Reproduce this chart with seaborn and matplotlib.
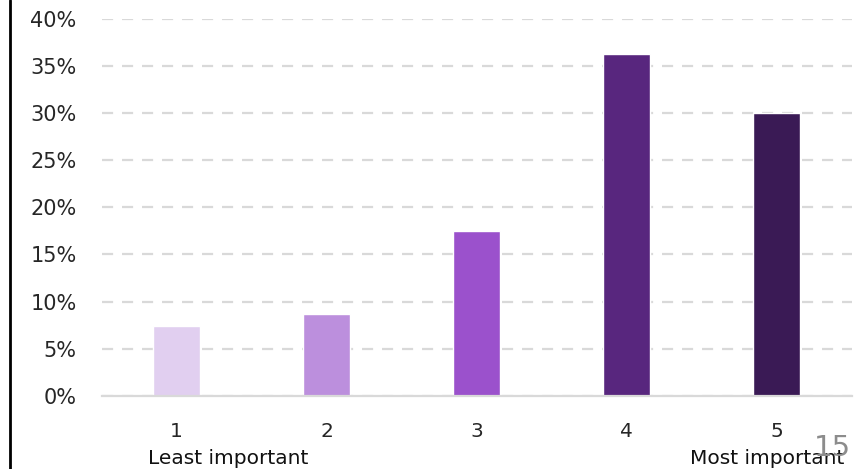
import matplotlib
matplotlib.use("Agg")
import matplotlib.pyplot as plt
import seaborn as sns
import pandas as pd
from matplotlib.lines import Line2D
from matplotlib.ticker import PercentFormatter

# Data
ratings = ["1", "2", "3", "4", "5"]
shares = [7.4, 8.7, 17.5, 36.3, 30.0]
bar_colors = ["#E1CFF0", "#BC8FDD", "#9B51CC", "#58267E", "#3A1A55"]
y_ticks = [0, 5, 10, 15, 20, 25, 30, 35, 40]

df = pd.DataFrame({"Rating": ratings, "Share": shares})

sns.set_style("white")
plt.rcParams["font.family"] = ["DejaVu Sans"]

fig = plt.figure(figsize=(8.62, 4.69), dpi=100)
ax = fig.add_axes([0.118, 0.156, 0.870, 0.804])

sns.barplot(data=df, x="Rating", y="Share", hue="Rating", palette=bar_colors,
            legend=False, width=0.31, saturation=1, ax=ax)

ax.set_ylim(0, 40)
ax.set_xlim(-0.5, 4.5)
ax.set_yticks(y_ticks)
ax.yaxis.set_major_formatter(PercentFormatter(decimals=0))
ax.grid(axis="y", color="#D9D9D9", linestyle=(0, (5, 4)), linewidth=1.6)
ax.set_axisbelow(True)
for side in ["top", "right", "left"]:
    ax.spines[side].set_visible(False)
ax.spines["bottom"].set_color("#D9D9D9")
ax.spines["bottom"].set_linewidth(1.6)
ax.tick_params(axis="y", length=0, labelsize=15, colors="#262626", pad=18)
ax.tick_params(axis="x", length=0, labelsize=14.5, colors="#262626", pad=19)
ax.set_xlabel("")
ax.set_ylabel("")

ax.text(0.34, -0.167, "Least important", transform=ax.get_xaxis_transform(),
        ha="center", va="center", fontsize=14.5, color="#111111")
ax.text(3.94, -0.167, "Most important", transform=ax.get_xaxis_transform(),
        ha="center", va="center", fontsize=14.5, color="#111111")

# page number and left border from the slide
fig.text(0.966, 0.045, "15", fontsize=21, color="#8C8C8C", ha="center", va="center")
fig.add_artist(Line2D([0.012, 0.012], [0, 1], color="black", linewidth=2,
                      transform=fig.transFigure))

fig.savefig("out.png", dpi=100)
